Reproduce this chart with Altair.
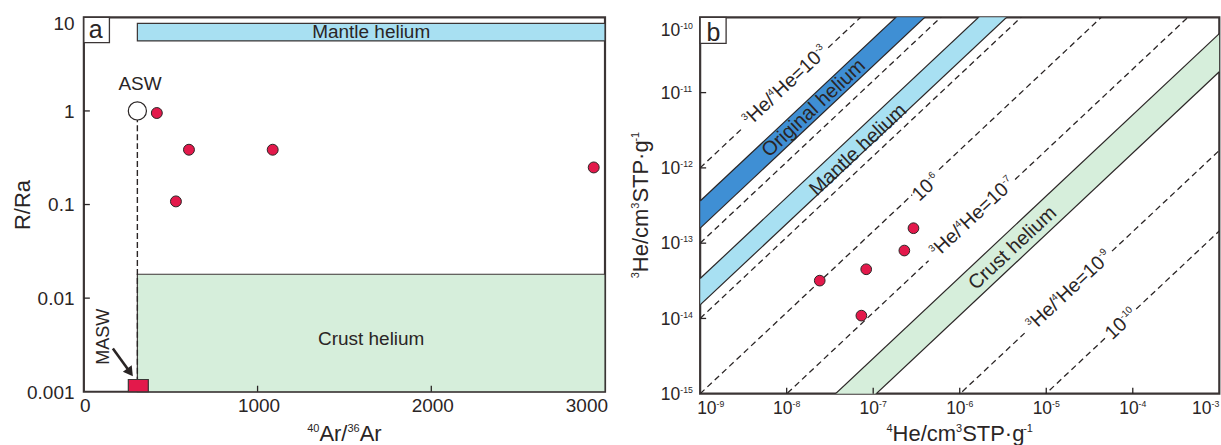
import math
import altair as alt
import pandas as pd

FONT = "Liberation Sans"
INK = "#2a2525"
FRAME = "#3b3535"
RED = "#e3194b"
MANTLE = "#a8e0f2"
ORIGINAL = "#3f8fd4"
CRUST = "#d6eedb"

W_A, H_A = 522, 375
W_B, H_B = 520, 377

# ---------------- panel a data ----------------
a_ar = [420, 530, 605, 1087, 2935]
a_rra = [0.95, 0.108, 0.385, 0.385, 0.249]
asw_ar = [308]
asw_rra = [1.0]
masw_ar = [256, 371]
masw_rra = [0.001, 0.00135]
mantle_ar = [308, 3000]
mantle_rra = [5.6, 8.6]
crust_ar = [308, 3000]
crust_rra = [0.001, 0.018]
arrow_ar = [167, 266]
arrow_rra = [0.0029, 0.00161]
a_xticks = [0, 1000, 2000, 3000]
a_xlabels = ["0", "1000", "2000", "3000"]
a_yticks = [0.001, 0.01, 0.1, 1, 10]
a_ylabels = ["0.001", "0.01", "0.1", "1", "10"]
a_texts = ["Mantle helium", "Crust helium", "ASW"]
a_text_ar = [1654, 1654, 323]
a_text_rra = [6.9, 0.0037, 1.93]
masw_label_ar = [114]
masw_label_rra = [0.00386]

# ---------------- panel b data ----------------
b_he4 = [2.41e-8, 8.3e-8, 7.3e-8, 2.29e-7, 2.92e-7]
b_he3 = [3.18e-14, 4.5e-14, 1.09e-14, 7.98e-14, 1.58e-13]
slope = 1.0786  # log-log slope of the drawn reference lines
dash_names = ["1e-3", "1e-4", "1e-5", "1e-6", "1e-7", "1e-9", "1e-10"]
dash_icpt = [-12.0, -13.0, -14.0, -15.0, -16.08, -18.24, -19.31]  # log10 3He at 4He = 1e-9
dash_gaps = [(-8.52, -7.52), None, None, (-6.55, -6.24), (-6.36, -5.36), (-5.25, -4.24), (-4.32, -3.96)]
band_names = ["Original helium", "Mantle helium", "Crust helium"]
band_upper = [-12.44, -13.47, -16.688]
band_lower = [-12.80, -13.82, -17.195]
band_colors = [ORIGINAL, MANTLE, CRUST]
band_lab_lx = [-7.688, -7.175, -5.39]
band_lab_ly = [-11.208, -11.761, -13.068]
# line labels: (segments, log x, log y); segment flag True = superscript
line_labels = [
    ([("3", True), ("He/", False), ("4", True), ("He=10", False), ("-3", True)], -8.022, -10.898),
    ([("10", False), ("-6", True)], -6.394, -12.248),
    ([("3", True), ("He/", False), ("4", True), ("He=10", False), ("-7", True)], -5.858, -12.647),
    ([("3", True), ("He/", False), ("4", True), ("He=10", False), ("-9", True)], -4.743, -13.62),
    ([("10", False), ("-10", True)], -4.14, -14.064),
]
b_xticks = [1e-9, 1e-8, 1e-7, 1e-6, 1e-5, 1e-4, 1e-3]
b_xexp = ["-9", "-8", "-7", "-6", "-5", "-4", "-3"]
b_yticks = [1e-15, 1e-14, 1e-13, 1e-12, 1e-11, 1e-10]
b_yexp = ["-15", "-14", "-13", "-12", "-11", "-10"]

one = pd.DataFrame({"k": [0]})

# Arial / Liberation Sans advance widths (per 1000 em) for rich-text layout
ADV = {" ": 278, ".": 278, "-": 333, "/": 278, "=": 584, "·": 278, "A": 667, "H": 722,
       "P": 667, "R": 722, "S": 667, "T": 611, "a": 556, "c": 500, "e": 556, "g": 556,
       "m": 833, "r": 333}


def twidth(s, fs):
    return sum(ADV.get(ch, 556) for ch in s) / 1000.0 * fs


def rich_rows(segments, fs, cx, cy, angle=0, anchor="center", sup_scale=0.5, sup_raise=0.4):
    sizes = [fs * sup_scale if sup else fs for _, sup in segments]
    widths = [twidth(t, s) for (t, _), s in zip(segments, sizes)]
    total = sum(widths)
    th = math.radians(angle)
    ux, uy = math.cos(th), math.sin(th)
    nx, ny = math.sin(th), -math.cos(th)
    pos = {"center": -total / 2, "left": 0.0, "right": -total}[anchor]
    rows = []
    for (t, sup), s, w in zip(segments, sizes, widths):
        up = -0.35 * fs + (sup_raise * fs if sup else 0.0)
        rows.append({"px": cx + ux * pos + nx * up, "py": cy + uy * pos + ny * up, "t": t, "fs": s})
        pos += w
    return rows


def label_layer(df, enc, **kw):
    base = dict(font=FONT, color=INK, baseline="alphabetic")
    base.update(kw)
    return alt.Chart(df).mark_text(**base).encode(**enc)


# ---------------- panel a ----------------
xa_scale = alt.Scale(domain=[0, 3000], nice=False, zero=False)
ya_scale = alt.Scale(type="log", domain=[0.001, 10], nice=False)


def XA():
    return alt.X("x:Q", scale=xa_scale, axis=None)


def YA():
    return alt.Y("y:Q", scale=ya_scale, axis=None)


def a_to_data(rows):
    df = pd.DataFrame(rows)
    df["x"] = df["px"] / W_A * 3000
    df["y"] = [10 ** (1 - py / (H_A / 4)) for py in df["py"]]
    return df


def rich_layer(df, angle, X, Y):
    return alt.Chart(df).mark_text(font=FONT, color=INK, align="left", baseline="alphabetic",
                                   angle=angle).encode(
        x=X(), y=Y(), text="t:N", size=alt.Size("fs:Q", scale=None, legend=None))


mantle_a = alt.Chart(pd.DataFrame({"x": [mantle_ar[0]], "x2": [mantle_ar[1]],
                                   "y": [mantle_rra[0]], "y2": [mantle_rra[1]]})).mark_rect(
    fill=MANTLE, stroke=FRAME, strokeWidth=1.2).encode(
    x=XA(), x2="x2", y=YA(), y2="y2")

crust_a = alt.Chart(pd.DataFrame({"x": [crust_ar[0]], "x2": [crust_ar[1]],
                                  "y": [crust_rra[0]], "y2": [crust_rra[1]]})).mark_rect(
    fill=CRUST, stroke=FRAME, strokeWidth=1.2).encode(
    x=XA(), x2="x2", y=YA(), y2="y2")

asw_line = alt.Chart(pd.DataFrame({"x": asw_ar, "y": [0.001], "y2": asw_rra})).mark_rule(
    strokeDash=[6, 3], strokeWidth=1.4, color=INK).encode(x=XA(), y=YA(), y2="y2")

masw_sq = alt.Chart(pd.DataFrame({"x": [masw_ar[0]], "x2": [masw_ar[1]],
                                  "y": [masw_rra[0]], "y2": [masw_rra[1]]})).mark_rect(
    fill=RED, stroke=FRAME, strokeWidth=1.2).encode(x=XA(), x2="x2", y=YA(), y2="y2")

arrow_line = alt.Chart(pd.DataFrame({"x": arrow_ar, "y": arrow_rra, "o": [0, 1]})).mark_line(
    color=INK, strokeWidth=2.6).encode(x=XA(), y=YA(), order="o:Q")
arrow_head = alt.Chart(pd.DataFrame({"x": [arrow_ar[1]], "y": [arrow_rra[1]]})).mark_point(
    shape="triangle-up", filled=True, color=INK, size=120, angle=144, opacity=1).encode(
    x=XA(), y=YA())

asw_pt = alt.Chart(pd.DataFrame({"x": asw_ar, "y": asw_rra})).mark_point(
    shape="circle", filled=True, fill="white", stroke=INK, strokeWidth=1.2, size=330,
    opacity=1).encode(x=XA(), y=YA())

pts_a = alt.Chart(pd.DataFrame({"x": a_ar, "y": a_rra})).mark_circle(
    size=120, color=RED, stroke=INK, strokeWidth=1, opacity=1).encode(x=XA(), y=YA())

txt_a = alt.Chart(pd.DataFrame({"x": a_text_ar, "y": a_text_rra, "t": a_texts})).mark_text(
    font=FONT, fontSize=19, color=INK, align="center", baseline="middle").encode(
    x=XA(), y=YA(), text="t:N")
masw_txt = alt.Chart(pd.DataFrame({"x": masw_label_ar, "y": masw_label_rra, "t": ["MASW"]})).mark_text(
    font=FONT, fontSize=18, color=INK, align="center", baseline="middle", angle=270).encode(
    x=XA(), y=YA(), text="t:N")

ticks_ax = alt.Chart(pd.DataFrame({"x": a_xticks[1:-1]})).mark_rule(
    color=INK, strokeWidth=1.3).encode(x=XA(), y=alt.value(H_A), y2=alt.value(H_A - 6))
ticks_ay = alt.Chart(pd.DataFrame({"y": a_yticks[1:-1]})).mark_rule(
    color=INK, strokeWidth=1.3).encode(y=YA(), x=alt.value(0), x2=alt.value(6))

xa_lab_df = pd.DataFrame({"x": a_xticks, "t": a_xlabels})
lab_ax_c = label_layer(xa_lab_df.iloc[:-1], dict(x=XA(), y=alt.value(H_A + 20), text="t:N"),
                       fontSize=19, align="center", dx=1.5)
lab_ax_r = label_layer(xa_lab_df.iloc[-1:], dict(x=XA(), y=alt.value(H_A + 20), text="t:N"),
                       fontSize=19, align="right", dx=3)
ya_lab_df = pd.DataFrame({"y": a_yticks, "t": a_ylabels})
lab_ay = label_layer(ya_lab_df.iloc[:-1], dict(y=YA(), x=alt.value(-9.4), text="t:N"),
                     fontSize=19, align="right", dy=6.8)
lab_ay_top = label_layer(ya_lab_df.iloc[-1:], dict(y=YA(), x=alt.value(-9.4), text="t:N"),
                         fontSize=19, align="right", dy=12.8)

title_ax = rich_layer(a_to_data(rich_rows(
    [("40", True), ("Ar/", False), ("36", True), ("Ar", False)], 22, W_A / 2, 424.5 - 0.35 * 22)),
    0, XA, YA)
title_ay = alt.Chart(one).mark_text(text="R/Ra", font=FONT, fontSize=22, color=INK,
                                    align="center", baseline="middle", angle=270).encode(
    x=alt.value(-61), y=alt.value(188))

box_a = alt.Chart(one).mark_rect(fill="white", stroke=FRAME, strokeWidth=1.3).encode(
    x=alt.value(0), x2=alt.value(25.6), y=alt.value(0), y2=alt.value(25.3))
box_a_t = alt.Chart(one).mark_text(text="a", font=FONT, fontSize=25, color=INK,
                                   align="center", baseline="alphabetic").encode(
    x=alt.value(11.8), y=alt.value(21))
marker = alt.Chart(one).mark_rule(opacity=0, strokeWidth=0.1).encode(
    x=alt.value(-82.7), x2=alt.value(-82.2), y=alt.value(-15.7), y2=alt.value(-15.2))

panel_a = alt.layer(mantle_a, crust_a, asw_line, masw_sq, arrow_line, arrow_head, asw_pt,
                    pts_a, txt_a, masw_txt, ticks_ax, ticks_ay, lab_ax_c, lab_ax_r, lab_ay,
                    lab_ay_top, title_ax, title_ay, box_a, box_a_t, marker
                    ).properties(width=W_A, height=H_A)

# ---------------- panel b ----------------
xb_scale = alt.Scale(type="log", domain=[1e-9, 1e-3], nice=False)
yb_scale = alt.Scale(type="log", domain=[1e-15, 1e-10], nice=False)
PPX = W_B / 6.0  # pixels per decade
PPY = H_B / 5.0


def XB():
    return alt.X("x:Q", scale=xb_scale, axis=None)


def YB():
    return alt.Y("y:Q", scale=yb_scale, axis=None)


def b_px(lx, ly):
    return (lx + 9) * PPX, (-10 - ly) * PPY


def b_to_data(rows):
    df = pd.DataFrame(rows)
    df["x"] = [10 ** (-9 + p / PPX) for p in df["px"]]
    df["y"] = [10 ** (-10 - p / PPY) for p in df["py"]]
    return df


def yv(icpt, lx):
    return 10 ** (icpt + slope * (lx + 9))


band_rows, edge_rows = [], []
for name, up, lo in zip(band_names, band_upper, band_lower):
    for lx in (-9, -3):
        band_rows.append({"band": name, "x": 10 ** lx, "y": yv(up, lx), "y2": yv(lo, lx)})
        edge_rows.append({"id": name + "_u", "x": 10 ** lx, "y": yv(up, lx), "o": lx})
        edge_rows.append({"id": name + "_l", "x": 10 ** lx, "y": yv(lo, lx), "o": lx})

bands = alt.Chart(pd.DataFrame(band_rows)).mark_area(clip=True, opacity=1).encode(
    x=XB(), y=YB(), y2="y2",
    color=alt.Color("band:N", scale=alt.Scale(domain=band_names, range=band_colors), legend=None),
    detail="band:N")

edges = alt.Chart(pd.DataFrame(edge_rows)).mark_line(clip=True, color=INK, strokeWidth=1.2).encode(
    x=XB(), y=YB(), detail="id:N", order="o:Q")

dash_rows = []
for name, icpt, gap in zip(dash_names, dash_icpt, dash_gaps):
    segs = [(-9, -3)] if gap is None else [(-9, gap[0]), (gap[1], -3)]
    for k, (l0, l1) in enumerate(segs):
        for lx in (l0, l1):
            dash_rows.append({"id": f"{name}_{k}", "x": 10 ** lx, "y": yv(icpt, lx), "o": lx})
dashes = alt.Chart(pd.DataFrame(dash_rows)).mark_line(
    clip=True, color=INK, strokeWidth=1.3, strokeDash=[6, 4]).encode(
    x=XB(), y=YB(), detail="id:N", order="o:Q")

pts_b = alt.Chart(pd.DataFrame({"x": b_he4, "y": b_he3})).mark_circle(
    size=115, color=RED, stroke=INK, strokeWidth=1, opacity=1).encode(x=XB(), y=YB())

band_txt = alt.Chart(pd.DataFrame({"x": [10 ** v for v in band_lab_lx],
                                   "y": [10 ** v for v in band_lab_ly], "t": band_names})).mark_text(
    font=FONT, fontSize=20, color=INK, align="center", baseline="middle", angle=317).encode(
    x=XB(), y=YB(), text="t:N")

line_rows = []
for segs, lx, ly in line_labels:
    cx, cy = b_px(lx, ly)
    line_rows += rich_rows(segs, 19.5, cx, cy, angle=317)
line_txt = rich_layer(b_to_data(line_rows), 317, XB, YB)

ticks_bx = alt.Chart(pd.DataFrame({"x": b_xticks[1:-1]})).mark_rule(
    color=INK, strokeWidth=1.3).encode(x=XB(), y=alt.value(H_B), y2=alt.value(H_B - 6))
ticks_by = alt.Chart(pd.DataFrame({"y": b_yticks[1:-1]})).mark_rule(
    color=INK, strokeWidth=1.3).encode(y=YB(), x=alt.value(0), x2=alt.value(6))

tick_rows = []
for i, (v, e) in enumerate(zip(b_xticks, b_xexp)):
    px = (math.log10(v) + 9) * PPX
    anchor = "center"
    if i == 0:
        anchor, px = "left", px - 3
    elif i == len(b_xticks) - 1:
        anchor = "right"
    tick_rows += rich_rows([("10", False), (e, True)], 17.5, px, H_B + 20.6 - 0.35 * 17.5,
                           anchor=anchor)
for i, (v, e) in enumerate(zip(b_yticks, b_yexp)):
    py = (-10 - math.log10(v)) * PPY
    if i == len(b_yticks) - 1:
        py += 12.6
    tick_rows += rich_rows([("10", False), (e, True)], 17.5, -7.3, py, anchor="right")
tick_txt = rich_layer(b_to_data(tick_rows), 0, XB, YB)

title_bx = rich_layer(b_to_data(rich_rows(
    [("4", True), ("He/cm", False), ("3", True), ("STP·g", False), ("-1", True)],
    22, W_B / 2, 424.5 - 0.35 * 22)), 0, XB, YB)
title_by = rich_layer(b_to_data(rich_rows(
    [("3", True), ("He/cm", False), ("3", True), ("STP·g", False), ("-1", True)],
    22, -60, 188, angle=270)), 270, XB, YB)

box_b = alt.Chart(one).mark_rect(fill="white", stroke=FRAME, strokeWidth=1.3).encode(
    x=alt.value(0), x2=alt.value(26), y=alt.value(0), y2=alt.value(26))
box_b_t = alt.Chart(one).mark_text(text="b", font=FONT, fontSize=25, color=INK,
                                   align="center", baseline="alphabetic").encode(
    x=alt.value(13.3), y=alt.value(23.5))

panel_b = alt.layer(bands, edges, dashes, pts_b, band_txt, line_txt, ticks_bx, ticks_by,
                    tick_txt, title_bx, title_by, box_b, box_b_t
                    ).properties(width=W_B, height=H_B)

chart = alt.hconcat(panel_a, panel_b, spacing=95.3, bounds="flush").properties(
    padding={"left": 0, "top": 0, "right": 0, "bottom": 0}
).configure_view(stroke=FRAME, strokeWidth=2.2).configure_text(font=FONT)

chart.save("out.html", embed_options={"renderer": "svg", "actions": False})
